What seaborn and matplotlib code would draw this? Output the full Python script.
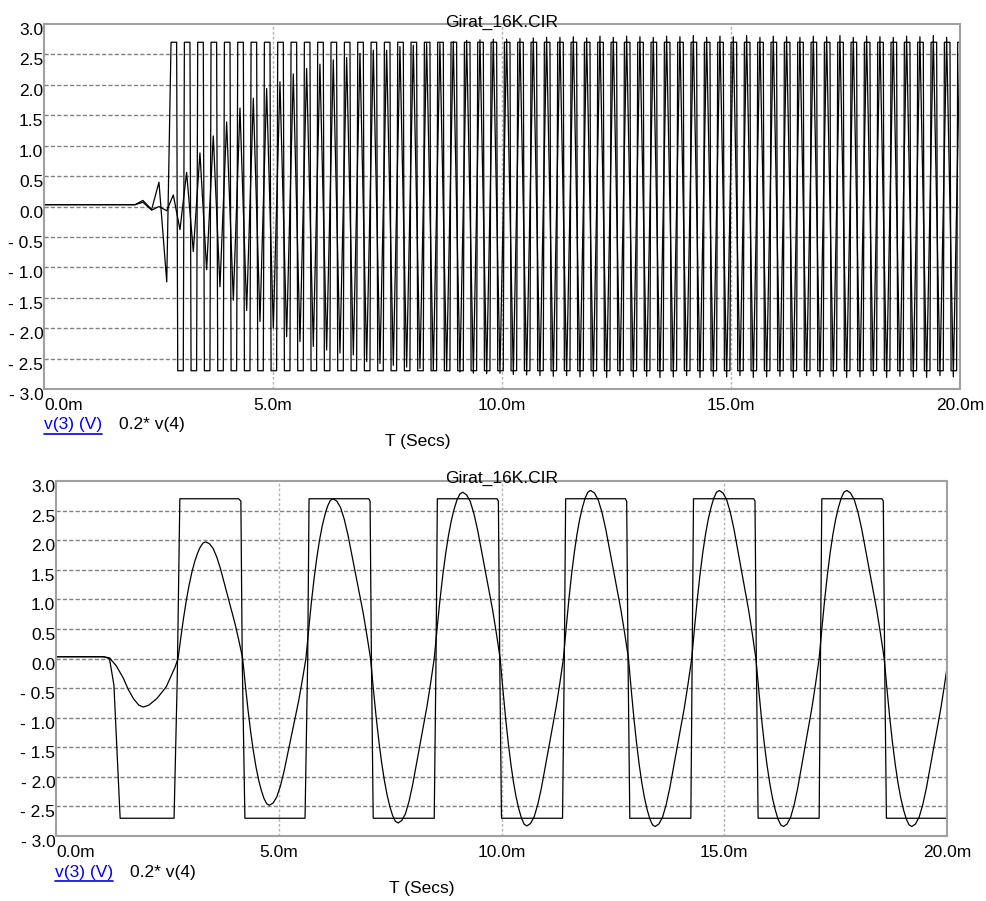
import numpy as np
import matplotlib
matplotlib.use("Agg")
import matplotlib.pyplot as plt
import matplotlib.transforms as mtransforms
from matplotlib.lines import Line2D
import seaborn as sns

# ---------------- data (time in ms, values in V) ----------------
title_text = "Girat_16K.CIR"
x_ticks = [0, 5, 10, 15, 20]
x_tick_labels = ["0.0m", "5.0m", "10.0m", "15.0m", "20.0m"]
y_ticks = [3.0, 2.5, 2.0, 1.5, 1.0, 0.5, 0.0, -0.5, -1.0, -1.5, -2.0, -2.5, -3.0]
y_tick_labels = ["3.0", "2.5", "2.0", "1.5", "1.0", "0.5", "0.0",
                 "- 0.5", "- 1.0", "- 1.5", "- 2.0", "- 2.5", "- 3.0"]
legend_v3 = "v(3) (V)"
legend_v4 = "0.2* v(4)"
x_label = "T (Secs)"

# --- top panel ---
top_pre_t = [0.0, 1.99, 2.16, 2.35, 2.51, 2.68]
top_sq_pre_v = [0.03, 0.03, 0.10, -0.05, 0.40, -1.24]
top_sine_pre_v = [0.03, 0.03, 0.07, -0.06, 0.00, -0.07]
top_sq_levels = [2.70, -2.70]
top_sq_rise = [2.762, 3.053, 3.344, 3.635, 3.927, 4.218, 4.509, 4.800, 5.091, 5.382,
               5.673, 5.964, 6.255, 6.547, 6.838, 7.129, 7.420, 7.711, 8.002, 8.293,
               8.584, 8.875, 9.167, 9.458, 9.749, 10.040, 10.331, 10.622, 10.913, 11.204,
               11.496, 11.787, 12.078, 12.369, 12.660, 12.951, 13.242, 13.533, 13.824, 14.116,
               14.407, 14.698, 14.989, 15.280, 15.571, 15.862, 16.153, 16.444, 16.736, 17.027,
               17.318, 17.609, 17.900, 18.191, 18.482, 18.773, 19.064, 19.356, 19.647, 19.938]
top_sq_fall = [2.908, 3.199, 3.490, 3.781, 4.073, 4.364, 4.655, 4.946, 5.237, 5.528,
               5.819, 6.110, 6.401, 6.693, 6.984, 7.275, 7.566, 7.857, 8.148, 8.439,
               8.730, 9.021, 9.313, 9.604, 9.895, 10.186, 10.477, 10.768, 11.059, 11.350,
               11.642, 11.933, 12.224, 12.515, 12.806, 13.097, 13.388, 13.679, 13.970, 14.262,
               14.553, 14.844, 15.135, 15.426, 15.717, 16.008, 16.299, 16.590, 16.882, 17.173,
               17.464, 17.755, 18.046, 18.337, 18.628, 18.919, 19.210, 19.502, 19.793]
top_sine_peak = [0.19, 0.56, 0.88, 1.16, 1.39, 1.62, 1.78, 1.94, 2.05, 2.18,
                 2.27, 2.34, 2.41, 2.45, 2.52, 2.57, 2.57, 2.63, 2.65, 2.68,
                 2.68, 2.71, 2.73, 2.74, 2.75, 2.75, 2.76, 2.77, 2.78, 2.78,
                 2.79, 2.77, 2.80, 2.78, 2.80, 2.79, 2.78, 2.80, 2.79, 2.81,
                 2.78, 2.80, 2.79, 2.81, 2.78, 2.80, 2.79, 2.78, 2.80, 2.79,
                 2.81, 2.78, 2.80, 2.79, 2.78, 2.80, 2.79, 2.81, 2.78, 2.80]
top_sine_trough = [-0.38, -0.74, -1.04, -1.32, -1.54, -1.71, -1.89, -2.00, -2.14, -2.22,
                   -2.30, -2.36, -2.41, -2.44, -2.55, -2.58, -2.61, -2.64, -2.66, -2.69,
                   -2.70, -2.72, -2.74, -2.75, -2.74, -2.76, -2.77, -2.78, -2.79, -2.78,
                   -2.80, -2.79, -2.81, -2.78, -2.80, -2.79, -2.81, -2.80, -2.78, -2.81,
                   -2.79, -2.80, -2.78, -2.81, -2.80, -2.79, -2.81, -2.78, -2.80, -2.79,
                   -2.81, -2.80, -2.78, -2.81, -2.79, -2.80, -2.81, -2.78, -2.80, -2.79]
top_sine_lag = [0.061, 0.207]      # peak / trough delay after each rising edge
top_end_v = [2.70, 1.42]            # square / sine value at t = 20 ms

# --- bottom panel ---
bot_sq_t = [0.0, 1.06, 1.20, 1.30, 1.44,
            2.65, 2.72, 2.78,
            4.10, 4.15, 4.18, 4.24,
            5.59, 5.65, 5.68,
            7.02, 7.05, 7.08, 7.12,
            8.49, 8.53, 8.56,
            9.90, 9.93, 9.96, 10.00,
            11.37, 11.41, 11.44,
            12.78, 12.81, 12.84, 12.88,
            14.25, 14.28, 14.31,
            15.66, 15.69, 15.72, 15.76,
            17.13, 17.16, 17.19,
            18.54, 18.57, 18.60, 18.64,
            19.99, 20.00]
bot_sq_v = [0.03, 0.03, 0.00, -0.45, -2.70,
            -2.70, -0.40, 2.70,
            2.70, 2.66, 0.00, -2.70,
            -2.70, 0.00, 2.70,
            2.70, 2.66, 0.00, -2.70,
            -2.70, 0.00, 2.70,
            2.70, 2.66, 0.00, -2.70,
            -2.70, 0.00, 2.70,
            2.70, 2.66, 0.00, -2.70,
            -2.70, 0.00, 2.70,
            2.70, 2.66, 0.00, -2.70,
            -2.70, 0.00, 2.70,
            2.70, 2.66, 0.00, -2.70,
            -2.70, -1.94]
bot_sine_pre_t = [0.0, 1.06, 1.20, 1.35, 1.51, 1.62, 1.74, 1.86, 1.96, 2.08, 2.26, 2.40, 2.48, 2.58, 2.67]
bot_sine_pre_v = [0.03, 0.03, 0.01, -0.12, -0.33, -0.52, -0.68, -0.79, -0.82, -0.79, -0.68, -0.55, -0.47, -0.30, -0.15]
bot_zero_t = [2.74, 4.19, 5.61, 7.06, 8.49, 9.97, 11.39, 12.85, 14.27, 15.71, 17.13, 18.59, 20.03]
bot_ext_t = [3.36, 4.79, 6.22, 7.68, 9.13, 10.57, 12.00, 13.45, 14.89, 16.33, 17.75, 19.21]
bot_ext_v = [1.97, -2.48, 2.70, -2.78, 2.81, -2.83, 2.84, -2.84, 2.84, -2.84, 2.84, -2.84]
# shape of one half-wave (fraction of time, fraction of peak)
rise_u = [0.0, 0.1, 0.2, 0.3, 0.4, 0.5, 0.6, 0.7, 0.8, 0.9, 1.0]
rise_f = [0.0, 0.18, 0.35, 0.50, 0.63, 0.74, 0.83, 0.90, 0.955, 0.99, 1.0]
fall_u = [0.0, 0.1, 0.2, 0.3, 0.4, 0.5, 0.6, 0.7, 0.8, 0.9, 1.0]
fall_f = [1.0, 0.985, 0.945, 0.87, 0.77, 0.65, 0.53, 0.41, 0.29, 0.15, 0.0]


# ---------------- build traces ----------------
def top_square():
    hi, lo = top_sq_levels
    h = 0.012
    xs, ys = list(top_pre_t), list(top_sq_pre_v)
    for k, r in enumerate(top_sq_rise):
        if k > 0:
            xs.append(r - h); ys.append(lo)
        xs.append(r + h); ys.append(hi)
        if k < len(top_sq_fall):
            f = top_sq_fall[k]
            xs += [f - h, f + h]; ys += [hi, lo]
    xs.append(20.0); ys.append(top_end_v[0])
    return np.array(xs), np.array(ys)


def top_sine():
    xs, ys = list(top_pre_t), list(top_sine_pre_v)
    for r, p, tr in zip(top_sq_rise, top_sine_peak, top_sine_trough):
        for t, v in ((r + top_sine_lag[0], p), (r + top_sine_lag[1], tr)):
            if t <= 20.0:
                xs.append(t); ys.append(v)
    xs.append(20.0); ys.append(top_end_v[1])
    return np.array(xs), np.array(ys)


def bot_sine():
    xs, ys = list(bot_sine_pre_t), list(bot_sine_pre_v)
    for i, (te, a) in enumerate(zip(bot_ext_t, bot_ext_v)):
        z0, z1 = bot_zero_t[i], bot_zero_t[i + 1]
        for u, f in zip(rise_u, rise_f):
            xs.append(z0 + u * (te - z0)); ys.append(f * a)
        for u, f in zip(fall_u[1:], fall_f[1:]):
            xs.append(te + u * (z1 - te)); ys.append(f * a)
    return np.array(xs), np.array(ys)


# ---------------- figure ----------------
sns.set_theme(style="white")
plt.rcParams['font.family'] = ['Liberation Sans', 'DejaVu Sans']

W, H = 986, 901
fig = plt.figure(figsize=(W / 100, H / 100), dpi=100)


def add_ax(l, t, r, b):
    return fig.add_axes([l / W, 1 - b / H, (r - l) / W, (b - t) / H])


ax1 = add_ax(44, 24, 960, 389)
ax2 = add_ax(56, 481, 947, 836)

FS = 12.5
offset_down = mtransforms.ScaledTranslation(0, -5 / 100, fig.dpi_scale_trans)


def style(ax):
    ax.set_xlim(0, 20)
    ax.set_ylim(-3, 3)
    for v in y_ticks[1:-1]:
        ax.axhline(v, color='#808080', lw=1.0, ls=(0, (3, 1.6)), zorder=0)
    for v in x_ticks[1:-1]:
        ax.axvline(v, color='#b4b4b4', lw=1.0, ls=(0, (2, 1.5)), zorder=0)
    for s in ax.spines.values():
        s.set_color('#a0a0a0')
        s.set_linewidth(1.5)
    ax.set_xticks(x_ticks)
    ax.set_xticklabels(x_tick_labels)
    ax.set_yticks(y_ticks)
    ax.set_yticklabels(y_tick_labels)
    ax.tick_params(axis='x', length=0, labelsize=FS, pad=6.5, colors='black')
    ax.tick_params(axis='y', length=0, labelsize=FS, pad=0.5, colors='black')
    ax.get_xticklabels()[0].set_horizontalalignment('left')
    for lab in ax.get_yticklabels():
        lab.set_transform(lab.get_transform() + offset_down)
    ax.set_xlabel('')
    ax.set_ylabel('')
    ax.grid(False)


tx, ty = top_square()
sx, sy = top_sine()
sns.lineplot(x=tx, y=ty, ax=ax1, sort=False, estimator=None, color='black', lw=0.9)
sns.lineplot(x=sx, y=sy, ax=ax1, sort=False, estimator=None, color='black', lw=0.9)

bx, by = np.array(bot_sq_t), np.array(bot_sq_v)
cx, cy = bot_sine()
sns.lineplot(x=bx, y=by, ax=ax2, sort=False, estimator=None, color='black', lw=0.9)
sns.lineplot(x=cx, y=cy, ax=ax2, sort=False, estimator=None, color='black', lw=0.9)

style(ax1)
style(ax2)


def ftext(x, y, s, **kw):
    return fig.text(x / W, 1 - y / H, s, fontsize=FS, **kw)


# titles
ftext(502, 27, title_text, ha='center', va='baseline', color='black')
ftext(502, 483, title_text, ha='center', va='baseline', color='black')

# legends and axis label
legs = []
for (lx, lb, ul, l2x, tlx, tly) in [(44, 429.5, 434, 119, 418, 446),
                                    (55, 876.5, 880.5, 129.5, 421.7, 893)]:
    t = ftext(lx, lb, legend_v3, ha='left', va='baseline', color='#0000ee')
    legs.append((t, ul))
    ftext(l2x, lb, legend_v4, ha='left', va='baseline', color='black')
    ftext(tlx, tly, x_label, ha='center', va='baseline', color='black')

fig.canvas.draw()
renderer = fig.canvas.get_renderer()
for t, ul in legs:
    bb = t.get_window_extent(renderer)
    fig.add_artist(Line2D([bb.x0 / W, bb.x1 / W], [1 - ul / H, 1 - ul / H],
                          transform=fig.transFigure, color='#0000ee', lw=1.2))

fig.savefig("out.png", dpi=100)
